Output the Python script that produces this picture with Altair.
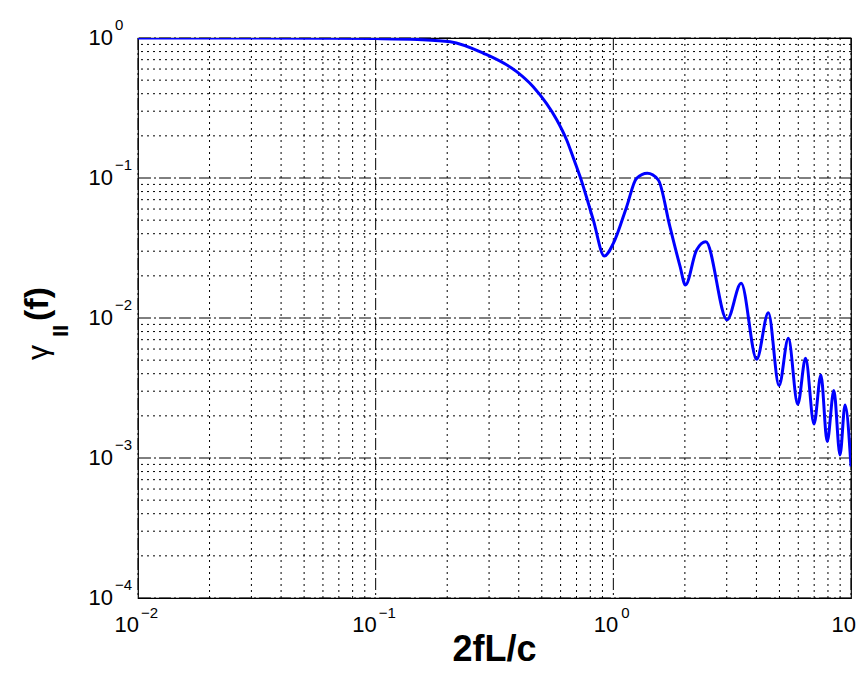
import altair as alt
import pandas as pd

# ---- curve data (2fL/c, gamma_II) ----
x_vals = [0.01, 0.03, 0.06, 0.10, 0.15, 0.206, 0.284, 0.392, 0.460, 0.523, 0.577, 0.637,
          0.679, 0.725, 0.824, 0.916, 1.0, 1.138, 1.25, 1.39, 1.545, 1.73, 1.91, 2.01,
          2.24, 2.45, 3.01, 3.45, 4.01, 4.49, 4.98, 5.45, 5.97, 6.44, 6.99,
          7.47, 7.94, 8.47, 8.99, 9.44, 10.0]
y_vals = [1.0, 0.999, 0.996, 0.99, 0.975, 0.94, 0.778, 0.575, 0.449, 0.341, 0.262, 0.186,
          0.139, 0.102, 0.050, 0.0277, 0.0341, 0.0624, 0.099, 0.108, 0.097, 0.0449, 0.0233, 0.0172,
          0.0306, 0.035, 0.0097, 0.0177, 0.00507, 0.0109, 0.00329, 0.00716, 0.00242, 0.00515, 0.00175,
          0.00392, 0.00131, 0.00303, 0.00105, 0.00239, 0.00087]

# ---- axes / grid ----
x_major = [0.01, 0.1, 1, 10]
x_exp = ["\u22122", "\u22121", "0", "1"]
y_major = [1, 0.1, 0.01, 0.001, 0.0001]
y_exp = ["0", "\u22121", "\u22122", "\u22123", "\u22124"]
x_minor = [m * 10.0 ** d for d in (-2, -1, 0) for m in range(2, 10)]
y_minor = [m * 10.0 ** d for d in (-4, -3, -2, -1) for m in range(2, 10)]

W, H = 713, 560
FONT = "Liberation Sans"

xs = alt.Scale(type="log", domain=[0.01, 10], nice=False)
ys = alt.Scale(type="log", domain=[1e-4, 1], nice=False)

curve = pd.DataFrame({"x": x_vals, "y": y_vals})
xmin_df = pd.DataFrame({"v": x_minor})
ymin_df = pd.DataFrame({"v": y_minor})
xmaj_df = pd.DataFrame({"v": x_major})
ymaj_df = pd.DataFrame({"v": y_major})
xlab = pd.DataFrame({"v": x_major, "e": x_exp, "base": [1e-4] * len(x_major),
                     "neg": [e.startswith("\u2212") for e in x_exp]})
ylab = pd.DataFrame({"v": y_major, "e": y_exp, "base": [0.01] * len(y_major)})

minor_style = dict(color="black", strokeWidth=1, strokeDash=[2, 4], opacity=1)
major_style = dict(color="black", strokeWidth=1, strokeDash=[12, 3, 2, 3], opacity=1)

gx_min = alt.Chart(xmin_df).mark_rule(**minor_style).encode(x=alt.X("v:Q", scale=xs, axis=None))
gy_min = alt.Chart(ymin_df).mark_rule(**minor_style).encode(y=alt.Y("v:Q", scale=ys, axis=None))
gx_maj = alt.Chart(xmaj_df).mark_rule(**major_style).encode(x=alt.X("v:Q", scale=xs, axis=None))
gy_maj = alt.Chart(ymaj_df).mark_rule(**major_style).encode(y=alt.Y("v:Q", scale=ys, axis=None))

line = alt.Chart(curve).mark_line(color="#0000ff", strokeWidth=3, interpolate="monotone",
                                  clip=True).encode(
    x=alt.X("x:Q", scale=xs, axis=None),
    y=alt.Y("y:Q", scale=ys, axis=None),
)

# x tick labels: "10" + superscript exponent
def xten(neg, dx_ten, dx_exp):
    src = alt.Chart(xlab).transform_filter(alt.datum.neg == neg)
    enc = dict(x=alt.X("v:Q", scale=xs, axis=None), y=alt.Y("base:Q", scale=ys, axis=None))
    t = src.mark_text(align="right", baseline="middle", dx=dx_ten, dy=27, font=FONT,
                      fontSize=22, color="black").encode(text=alt.value("10"), **enc)
    e = src.mark_text(align="left", baseline="middle", dx=dx_exp, dy=15, font=FONT,
                      fontSize=15, color="black").encode(text="e:N", **enc)
    return [t, e]

xl = xten(True, 1, 3) + xten(False, 5, 8)

yenc = dict(x=alt.X("base:Q", scale=xs, axis=None), y=alt.Y("v:Q", scale=ys, axis=None))
yl_t = alt.Chart(ylab).mark_text(align="right", baseline="middle", dx=-25, font=FONT, fontSize=22,
                                 color="black").encode(text=alt.value("10"), **yenc)
yl_e = alt.Chart(ylab).mark_text(align="left", baseline="middle", dx=-23, dy=-13, font=FONT,
                                 fontSize=15, color="black").encode(text="e:N", **yenc)

# titles
xtitle = alt.Chart(curve).transform_filter("datum.x == 0.01").mark_text(
    align="center", baseline="alphabetic", font=FONT, fontSize=36, fontWeight="bold",
    color="black").encode(x=alt.value(W / 2), y=alt.value(623), text=alt.value("2fL/c"))

def ytitle(txt, px, py, size, weight):
    return alt.Chart(curve).transform_filter("datum.x == 0.01").mark_text(
        align="left", baseline="alphabetic", angle=270, font=FONT, fontSize=size,
        fontWeight=weight, color="black").encode(x=alt.value(px), y=alt.value(py),
                                                 text=alt.value(txt))

yt = [ytitle("\u03b3", -90, 322, 30, "normal"),
      ytitle("II", -70, 299, 22, "bold"),
      ytitle("(f)", -90, 283, 34, "bold")]

chart = alt.layer(gx_min, gy_min, gx_maj, gy_maj, line, *xl, yl_t, yl_e, xtitle, *yt).properties(
    width=W, height=H,
    autosize=alt.AutoSizeParams(type="none"),
    padding={"left": 130, "top": 30, "right": 7, "bottom": 70},
    background="white",
).configure_view(stroke="black", strokeWidth=1.2)

chart.save("out.html", embed_options={"renderer": "svg", "actions": False})
